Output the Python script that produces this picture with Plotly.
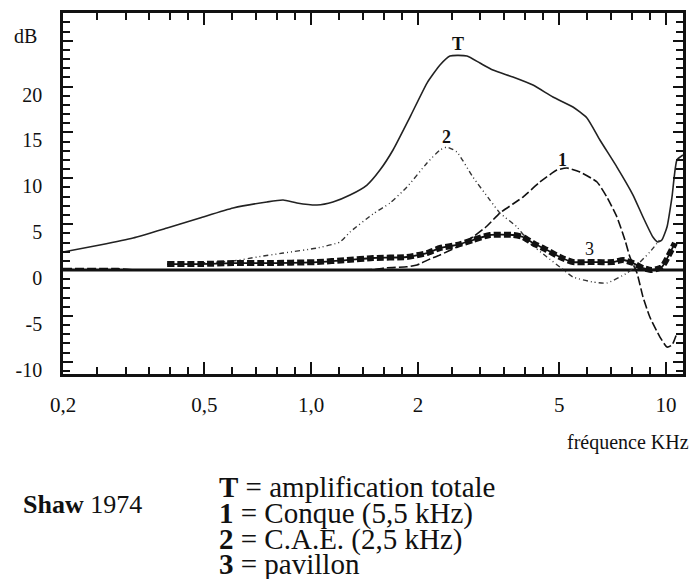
import numpy as np
import plotly.graph_objects as go

# ---- data (frequency in kHz, gain in dB) ----
t_freq = [0.2, 0.254, 0.315, 0.393, 0.486, 0.603, 0.751, 0.834, 0.912, 1.039, 1.152, 1.287, 1.437,
          1.563, 1.701, 1.899, 2.121, 2.307, 2.461, 2.748, 2.99, 3.253, 3.703, 4.217, 4.80, 5.466,
          5.985, 6.51, 7.27, 8.07, 8.61, 9.18, 9.48, 9.73, 10.06, 10.39, 10.73, 11.16]
t_db = [1.96, 2.73, 3.49, 4.58, 5.67, 6.76, 7.42, 7.63, 7.31, 7.09, 7.42, 8.18, 9.27,
        10.9, 13.09, 16.68, 20.39, 22.36, 23.34, 23.34, 22.57, 21.81, 21.05, 20.17, 18.87, 17.78,
        16.58, 14.18, 11.23, 8.18, 5.78, 3.60, 3.05, 3.27, 4.69, 7.96, 12.0, 12.54]

c1_freq = [0.2, 0.286, 0.32, 0.486, 0.930, 1.5, 1.636, 1.862, 1.987, 2.162, 2.307, 2.575, 2.856, 3.13,
           3.404, 3.703, 3.953, 4.413, 4.926, 5.26, 5.72, 6.39, 6.81, 7.27, 7.66, 7.91, 8.28, 8.61,
           9.00, 9.61, 10.06, 10.39, 10.73]
c1_db = [0.15, 0.15, 0.0, 0.0, 0.0, 0.05, 0.25, 0.35, 0.55, 1.20, 1.64, 2.51, 3.60, 4.80,
         6.22, 7.20, 7.96, 9.60, 10.9, 11.12, 10.69, 9.60, 7.96, 5.78, 3.27, 1.42, -0.33, -2.94,
         -5.13, -7.31, -8.40, -8.18, -6.87]

c2_freq = [0.486, 0.603, 0.704, 0.834, 1.039, 1.205, 1.287, 1.494, 1.668, 1.862, 2.121, 2.307, 2.414,
           2.575, 2.856, 3.19, 3.404, 3.802, 4.136, 4.618, 5.02, 5.466, 6.22, 6.81, 7.76, 8.28, 9.00, 9.6]
c2_db = [0.76, 0.98, 1.42, 1.85, 2.40, 3.05, 4.14, 6.11, 7.31, 9.05, 11.67, 13.09, 13.41,
         12.87, 10.14, 7.63, 6.22, 4.69, 2.94, 1.42, 0.33, -0.76, -1.31, -1.42, -0.33, 0.55, 1.96, 3.3]

c3_freq = [0.393, 0.486, 0.603, 0.751, 1.039, 1.262, 1.494, 1.862, 2.121, 2.307, 2.575, 2.856, 3.19,
           3.703, 3.953, 4.217, 4.618, 5.02, 5.466, 6.22, 7.08, 7.56, 8.07, 8.61, 9.12, 9.73, 10.25, 10.59]
c3_db = [0.65, 0.65, 0.76, 0.76, 0.87, 1.09, 1.31, 1.42, 1.85, 2.40, 2.73, 3.27, 3.82,
         3.82, 3.60, 2.94, 2.18, 1.42, 0.87, 0.87, 0.87, 1.09, 0.76, 0.22, 0.0, 0.33, 1.85, 2.94]

x_tick_vals = [0.2, 0.5, 1.0, 2, 5, 10]
x_tick_text = ["0,2", "0,5", "1,0", "2", "5", "10"]
x_minor_vals = [0.25, 0.3, 0.35, 0.4, 0.45, 0.6, 0.7, 0.8, 0.9, 1.2, 1.4, 1.6, 1.8,
                2.5, 3, 3.5, 4, 4.5, 6, 7, 8, 9]
y_tick_vals = [-10, -5, 0, 5, 10, 15, 20, 25]
y_tick_text = ["-10", "-5", "0", "5", "10", "15", "20", ""]

curve_labels = [("<b>T</b>", 2.593, 24.6), ("<b>2</b>", 2.414, 14.5),
                ("<b>1</b>", 5.12, 12.0), ("3", 6.10, 2.29)]

legend_lines = ["<b>T</b> = amplification totale", "<b>1</b> = Conque (5,5 kHz)",
                "<b>2</b> = C.A.E. (2,5 kHz)", "<b>3</b> = pavillon"]

# ---- layout geometry ----
W, H = 694, 579
L, R, T, B = 63, 683, 13, 374
SERIF = "Times New Roman"
INK = "#111111"


def px(x):
    return (x - L) / (R - L)


def py(y):
    return (B - y) / (B - T)


fig = go.Figure()

spline = dict(shape="spline", smoothing=0.5)

fig.add_trace(go.Scatter(x=c1_freq, y=c1_db, mode="lines",
                         line=dict(color=INK, width=1.6, dash="9px,3px", **spline)))
fig.add_trace(go.Scatter(x=c2_freq, y=c2_db, mode="lines",
                         line=dict(color="#333333", width=1.4, dash="5px,3px,1px,3px,1px,3px", **spline)))
fig.add_trace(go.Scatter(x=t_freq, y=t_db, mode="lines",
                         line=dict(color="#222222", width=1.6, **spline)))
fig.add_trace(go.Scatter(x=c3_freq, y=c3_db, mode="lines",
                         line=dict(color=INK, width=1.8, **spline)))
fig.add_trace(go.Scatter(x=c3_freq, y=c3_db, mode="lines",
                         line=dict(color=INK, width=6, dash="7px,3px", **spline)))

# 0 dB reference line
fig.add_shape(type="line", xref="paper", x0=0, x1=1, yref="y", y0=0, y1=0,
              line=dict(color=INK, width=3), layer="below")

for txt, fx, dbv in curve_labels:
    fig.add_annotation(x=np.log10(fx), y=dbv, text=txt, showarrow=False,
                       font=dict(family=SERIF, size=18, color=INK),
                       xanchor="center", yanchor="middle")

fig.add_annotation(xref="paper", yref="paper", x=px(25), y=py(36), text="dB", showarrow=False,
                   xanchor="center", yanchor="middle",
                   font=dict(family=SERIF, size=20, color=INK))
fig.add_annotation(xref="paper", yref="paper", x=px(691), y=py(442), text="fréquence KHz",
                   showarrow=False, xanchor="right", yanchor="middle",
                   font=dict(family=SERIF, size=20, color=INK))
fig.add_annotation(xref="paper", yref="paper", x=px(21), y=py(504), text="<b>Shaw</b> 1974",
                   showarrow=False, xanchor="left", yanchor="middle",
                   font=dict(family=SERIF, size=26, color=INK))
legend_y = [487, 513, 539, 564]
for line_txt, ly in zip(legend_lines, legend_y):
    fig.add_annotation(xref="paper", yref="paper", x=px(217), y=py(ly), text=line_txt,
                       showarrow=False, xanchor="left", yanchor="middle",
                       font=dict(family=SERIF, size=29, color=INK))

fig.update_layout(
    width=W, height=H,
    margin=dict(l=L, r=W - R, t=T, b=H - B, autoexpand=False),
    paper_bgcolor="white", plot_bgcolor="white",
    showlegend=False,
    xaxis=dict(
        type="log", range=[np.log10(0.2), np.log10(11.16)], automargin=False,
        tickmode="array", tickvals=x_tick_vals, ticktext=x_tick_text,
        ticks="inside", ticklen=12, tickwidth=2, tickcolor=INK,
        showline=True, linewidth=2.5, linecolor=INK, mirror="ticks",
        showgrid=False, zeroline=False,
        ticklabelstandoff=10,
        tickfont=dict(family=SERIF, size=21, color=INK),
        minor=dict(tickmode="array", tickvals=x_minor_vals, ticks="inside",
                   ticklen=7, tickwidth=2, tickcolor=INK, showgrid=False),
    ),
    yaxis=dict(
        range=[-11.34, 28.03], automargin=False,
        tickmode="array", tickvals=y_tick_vals, ticktext=y_tick_text,
        ticks="inside", ticklen=10, tickwidth=2, tickcolor=INK,
        showline=True, linewidth=2.5, linecolor=INK, mirror="ticks",
        showgrid=False, zeroline=False,
        ticklabelstandoff=14, ticklabelshift=8,
        tickfont=dict(family=SERIF, size=20, color=INK),
        minor=dict(tickmode="linear", tick0=0, dtick=1, ticks="inside",
                   ticklen=7, tickwidth=2, tickcolor=INK, showgrid=False),
    ),
)

fig.write_html("out.html", config={"displayModeBar": False},
               post_script="document.body.style.margin='0px';")
